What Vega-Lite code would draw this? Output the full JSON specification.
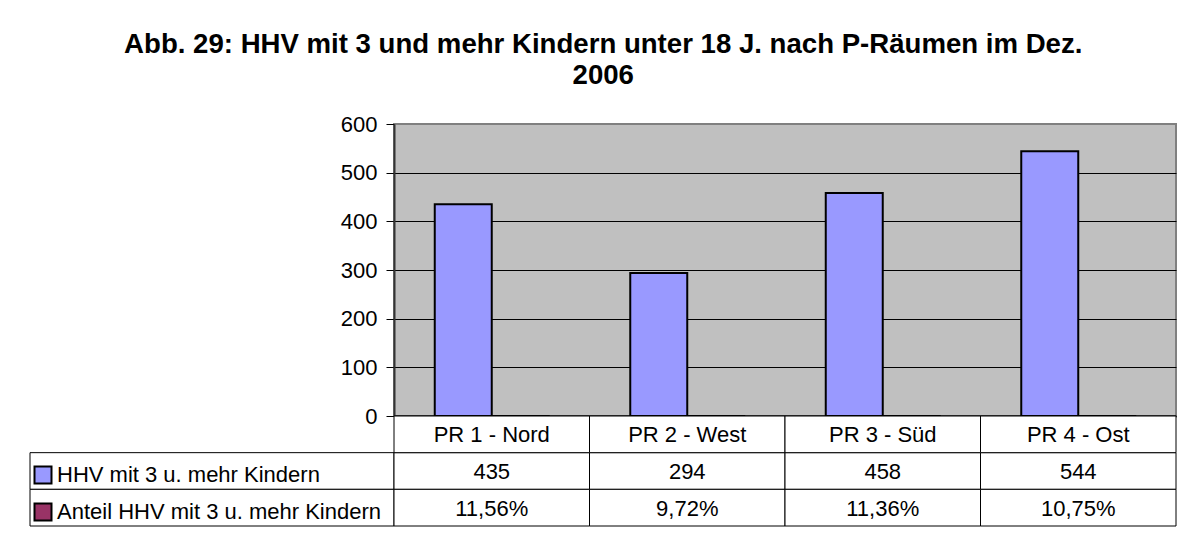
{
  "$schema": "https://vega.github.io/schema/vega-lite/v6.json",
  "background": "white",
  "padding": {"left": 29, "top": 31, "right": 13, "bottom": 14},
  "title": {
    "text": ["Abb. 29: HHV mit 3 und mehr Kindern unter 18 J. nach P-Räumen im Dez.", "2006"],
    "font": "Liberation Sans",
    "fontSize": 27.6,
    "fontWeight": "bold",
    "color": "black",
    "lineHeight": 31,
    "anchor": "middle",
    "offset": 22
  },
  "datasets": {
    "main": [
      {"cat": "PR 1 - Nord", "series": "HHV mit  3 u. mehr Kindern", "value": 435, "label": "435"},
      {"cat": "PR 1 - Nord", "series": "Anteil HHV mit 3 u. mehr Kindern", "value": 0.1156, "label": "11,56%"},
      {"cat": "PR 2 - West", "series": "HHV mit  3 u. mehr Kindern", "value": 294, "label": "294"},
      {"cat": "PR 2 - West", "series": "Anteil HHV mit 3 u. mehr Kindern", "value": 0.0972, "label": "9,72%"},
      {"cat": "PR 3 - Süd", "series": "HHV mit  3 u. mehr Kindern", "value": 458, "label": "458"},
      {"cat": "PR 3 - Süd", "series": "Anteil HHV mit 3 u. mehr Kindern", "value": 0.1136, "label": "11,36%"},
      {"cat": "PR 4 - Ost", "series": "HHV mit  3 u. mehr Kindern", "value": 544, "label": "544"},
      {"cat": "PR 4 - Ost", "series": "Anteil HHV mit 3 u. mehr Kindern", "value": 0.1075, "label": "10,75%"}
    ]
  },
  "config": {
    "font": "Liberation Sans",
    "view": {"stroke": null}
  },
  "resolve": {"scale": {"color": "independent"}, "legend": {"color": "independent"}},
  "bounds": "flush",
  "spacing": 0,
  "columns": 2,
  "concat": [
    {
      "width": 364,
      "height": 292,
      "data": {"values": []},
      "mark": "point",
      "encoding": {}
    },
    {
      "width": 782,
      "height": 292,
      "data": {"name": "main"},
      "view": {"fill": "#C0C0C0", "stroke": "#808080", "strokeWidth": 2},
      "mark": {"type": "bar", "stroke": "black", "strokeWidth": 2},
      "encoding": {
        "x": {
          "field": "cat", "type": "nominal", "sort": null,
          "scale": {"paddingInner": 0, "paddingOuter": 0},
          "axis": {"title": null, "labels": false, "ticks": false, "domainColor": "black", "domainWidth": 2}
        },
        "xOffset": {
          "field": "series", "type": "nominal", "sort": null,
          "scale": {"paddingInner": 0, "paddingOuter": 0.715}
        },
        "y": {
          "field": "value", "type": "quantitative",
          "scale": {"domain": [0, 600], "nice": false},
          "axis": {
            "title": null,
            "values": [0, 100, 200, 300, 400, 500, 600],
            "grid": true,
            "gridColor": {"condition": {"test": "datum.value == 0 || datum.value == 600", "value": "transparent"}, "value": "black"},
            "gridWidth": 1,
            "gridOpacity": 1,
            "domainColor": "#333333",
            "domainWidth": 2,
            "tickColor": "black",
            "tickSize": 8,
            "labelFontSize": 22,
            "labelColor": "black",
            "labelPadding": 9
          }
        },
        "color": {
          "field": "series", "type": "nominal", "sort": null,
          "scale": {"range": ["#9999FF", "#993366"]},
          "legend": null
        }
      }
    },
    {
      "width": 364,
      "height": 110,
      "data": {"name": "main"},
      "transform": [{"filter": "datum.cat == 'PR 1 - Nord'"}],
      "encoding": {
        "y": {
          "field": "series", "type": "nominal",
          "scale": {"domain": ["header", "HHV mit  3 u. mehr Kindern", "Anteil HHV mit 3 u. mehr Kindern"], "paddingInner": 0, "paddingOuter": 0},
          "axis": null
        }
      },
      "layer": [
        {
          "mark": {"type": "rect", "fill": "white", "stroke": "black", "strokeWidth": 1}
        },
        {
          "mark": {"type": "point", "filled": true, "opacity": 0},
          "encoding": {
            "color": {
              "field": "series", "type": "nominal", "sort": null,
              "scale": {"range": ["#9999FF", "#993366"]},
              "legend": {
                "orient": "none",
                "legendX": 2,
                "legendY": 48,
                "title": null,
                "symbolType": "square",
                "symbolSize": 289,
                "symbolStrokeColor": "black",
                "symbolStrokeWidth": 2,
                "symbolOpacity": 1,
                "labelFontSize": 22,
                "labelColor": "black",
                "labelOffset": 3,
                "labelLimit": 400,
                "rowPadding": 11
              }
            }
          }
        }
      ]
    },
    {
      "width": 782,
      "height": 110,
      "data": {"name": "main"},
      "encoding": {
        "x": {
          "field": "cat", "type": "nominal", "sort": null,
          "scale": {"paddingInner": 0, "paddingOuter": 0},
          "axis": null
        }
      },
      "layer": [
        {
          "mark": {"type": "rect", "fill": "white", "stroke": "black", "strokeWidth": 1},
          "encoding": {
            "y": {
              "field": "series", "type": "nominal",
              "scale": {"domain": ["header", "HHV mit  3 u. mehr Kindern", "Anteil HHV mit 3 u. mehr Kindern"], "paddingInner": 0, "paddingOuter": 0},
              "axis": null
            }
          }
        },
        {
          "transform": [{"filter": "datum.series == 'HHV mit  3 u. mehr Kindern'"}],
          "mark": {"type": "rect", "fill": "white", "stroke": "black", "strokeWidth": 1},
          "encoding": {"y": {"datum": "header"}}
        },
        {
          "mark": {"type": "text", "fontSize": 22, "color": "black", "baseline": "middle", "dy": 1},
          "encoding": {
            "y": {"field": "series", "type": "nominal"},
            "text": {"field": "label"}
          }
        },
        {
          "transform": [{"filter": "datum.series == 'HHV mit  3 u. mehr Kindern'"}],
          "mark": {"type": "text", "fontSize": 22, "color": "black", "baseline": "middle", "dy": 1},
          "encoding": {
            "y": {"datum": "header"},
            "text": {"field": "cat"}
          }
        }
      ]
    }
  ]
}
